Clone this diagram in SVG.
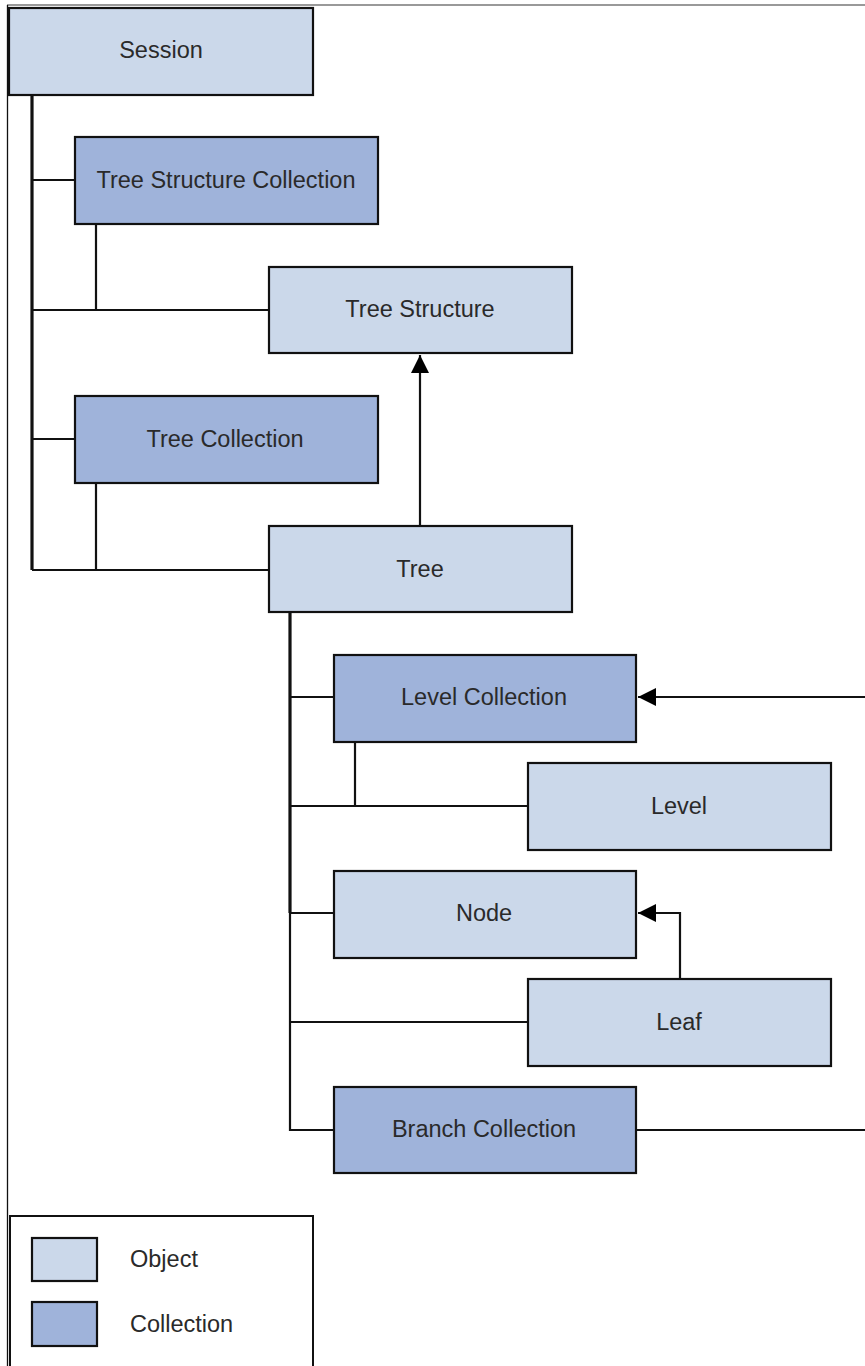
<svg xmlns="http://www.w3.org/2000/svg" width="865" height="1366" viewBox="0 0 865 1366">
<style>
.obj{fill:#cbd8ea;stroke:#111;stroke-width:2.2}
.col{fill:#9fb3da;stroke:#111;stroke-width:2.2}
.lbl{font-family:"Liberation Sans",Arial,sans-serif;font-size:23.5px;fill:#2a2a2a;text-anchor:middle;dominant-baseline:central}
.ln{fill:none;stroke:#111;stroke-width:2.2}
.thick{fill:none;stroke:#111;stroke-width:3.2}
</style>
<defs>
<marker id="arrb" viewBox="0 0 10 10" refX="10" refY="5" markerWidth="20" markerHeight="18" markerUnits="userSpaceOnUse" orient="auto">
<path d="M0,0 L10,5 L0,10 z" fill="#000"/>
</marker>
</defs>
<rect width="865" height="1366" fill="#fff"/>
<g id="frame">
<line x1="7" y1="5" x2="865" y2="5" stroke="#777" stroke-width="1.5"/>
<line x1="7.5" y1="5" x2="7.5" y2="1366" stroke="#111" stroke-width="1.3"/>
</g>
<g id="connectors">
<path class="thick" d="M32,95 V570"/>
<path class="ln" d="M32,180 H75 M32,310 H269 M32,439 H75 M32,570 H269"/>
<path class="ln" d="M96,224 V310 M96,483 V570"/>
<path class="ln" d="M420,526 V355" marker-end="url(#arrb)"/>
<path class="thick" d="M290,612 V913"/>
<path class="ln" d="M290,913 V1130 H334 M290,697 H334 M290,806 H528 M290,913 H334 M290,1022 H528"/>
<path class="ln" d="M355,742 V806"/>
<path class="ln" d="M680,979 V913 H638" marker-end="url(#arrb)"/>
<path class="ln" d="M636,1130 H865"/>
<path class="ln" d="M865,697 H638" marker-end="url(#arrb)"/>
</g>
<g id="session"><rect class="obj" x="9" y="8" width="304" height="87"/><text class="lbl" x="161" y="50">Session</text></g>
<g id="tree-structure-collection"><rect class="col" x="75" y="137" width="303" height="87"/><text class="lbl" x="226" y="180">Tree Structure Collection</text></g>
<g id="tree-structure"><rect class="obj" x="269" y="267" width="303" height="86"/><text class="lbl" x="420" y="309">Tree Structure</text></g>
<g id="tree-collection"><rect class="col" x="75" y="396" width="303" height="87"/><text class="lbl" x="225" y="439">Tree Collection</text></g>
<g id="tree"><rect class="obj" x="269" y="526" width="303" height="86"/><text class="lbl" x="420" y="569">Tree</text></g>
<g id="level-collection"><rect class="col" x="334" y="655" width="302" height="87"/><text class="lbl" x="484" y="697">Level Collection</text></g>
<g id="level"><rect class="obj" x="528" y="763" width="303" height="87"/><text class="lbl" x="679" y="806">Level</text></g>
<g id="node"><rect class="obj" x="334" y="871" width="302" height="87"/><text class="lbl" x="484" y="913">Node</text></g>
<g id="leaf"><rect class="obj" x="528" y="979" width="303" height="87"/><text class="lbl" x="679" y="1022">Leaf</text></g>
<g id="branch-collection"><rect class="col" x="334" y="1087" width="302" height="86"/><text class="lbl" x="484" y="1129">Branch Collection</text></g>
<g id="legend">
<rect x="10" y="1216" width="303" height="160" fill="#fff" stroke="#111" stroke-width="2"/>
<rect class="obj" x="32" y="1238" width="65" height="43"/>
<text class="lbl" x="130" y="1259" style="text-anchor:start">Object</text>
<rect class="col" x="32" y="1302" width="65" height="44"/>
<text class="lbl" x="130" y="1324" style="text-anchor:start">Collection</text>
</g>
</svg>
